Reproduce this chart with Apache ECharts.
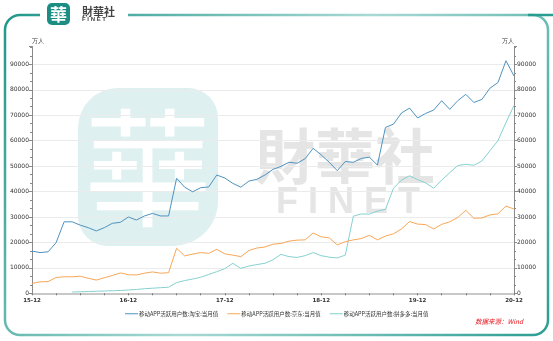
<!DOCTYPE html>
<html>
<head>
<meta charset="utf-8">
<script src="https://cdn.jsdelivr.net/npm/echarts@6/dist/echarts.min.js"></script>
<style>
html,body{margin:0;padding:0;background:#fff;}
#chart{width:553px;height:341px;}
</style>
</head>
<body>
<div id="chart"></div>
<script>
var categories = [
'15-12','16-01','16-02','16-03','16-04','16-05','16-06','16-07','16-08','16-09','16-10','16-11',
'16-12','17-01','17-02','17-03','17-04','17-05','17-06','17-07','17-08','17-09','17-10','17-11',
'17-12','18-01','18-02','18-03','18-04','18-05','18-06','18-07','18-08','18-09','18-10','18-11',
'18-12','19-01','19-02','19-03','19-04','19-05','19-06','19-07','19-08','19-09','19-10','19-11',
'19-12','20-01','20-02','20-03','20-04','20-05','20-06','20-07','20-08','20-09','20-10','20-11',
'20-12'];
var seriesNames = ['移动APP活跃用户数:淘宝:当月值','移动APP活跃用户数:京东:当月值','移动APP活跃用户数:拼多多:当月值'];
var taobao = [16600,16000,16300,19900,28100,28100,26800,25800,24500,25800,27500,27900,
30000,28800,30400,31400,30400,30400,45200,41700,39900,41500,41800,46500,
45300,43200,41700,44100,44800,46500,48700,49900,51500,51100,52900,57000,
54400,51500,48200,51800,51500,53000,53500,50400,65200,66500,70900,72800,
68900,70700,72000,75700,72300,75700,78200,75000,76200,80600,82800,91400,
85400];
var jingdong = [3900,4500,4600,6200,6500,6500,6700,5900,5200,6100,7000,8000,
7300,7200,7900,8400,7900,8100,17700,14700,15400,16000,15700,17300,
15500,15000,14400,16800,17800,18200,19300,19600,20500,20900,21000,23700,
22200,21800,19000,20300,21000,21500,22800,21000,22500,23400,25300,28200,
27200,27000,25300,27100,28100,29800,32600,29500,29600,30800,31200,34300,
33100];
var pinduoduo = [null,null,null,null,null,500,600,700,800,900,1000,1100,
1300,1500,1800,2000,2200,2400,4200,5000,5600,6300,7400,8500,
9700,11800,9800,10700,11300,11800,13200,15300,14400,14100,14800,16000,
14800,14200,13900,15000,30300,31200,31100,32300,33000,41300,44500,46200,
44700,43400,41300,44500,47400,50200,50700,50300,52000,56000,60000,67100,
73800];
var yMin = 0, yMax = 97000, yInterval = 10000;

var chart = echarts.init(document.getElementById('chart'), null, {renderer:'canvas'});

function yAxisCfg(pos){
  return {
    type:'value', position:pos, min:yMin, max:yMax, interval:yInterval,
    name:'万人', nameLocation:'end', nameGap:2,
    nameTextStyle:{fontSize:5.5, color:'#333', align: pos==='left'?'left':'right'},
    axisLine:{show:true, lineStyle:{color:'#8a8a8a', width:1}},
    axisTick:{show:true, length:3, lineStyle:{color:'#8a8a8a'}},
    minorTick:{show:true, splitNumber:3, length:2, lineStyle:{color:'#8a8a8a'}},
    axisLabel:{fontSize:6, color:'#333', margin:3, fontFamily:'DejaVu Sans',
      formatter:function(v){return v%10000===0? String(v):'';}},
    splitLine:{show: pos==='left', showMaxLine:false, lineStyle:{color:'#ebebeb', width:1}}
  };
}

var option = {
  backgroundColor:'#fff',
  animation:false,
  grid:{left:32, right:39, top:46.5, bottom:47.7, containLabel:false},
  xAxis:{
    type:'category', data:categories, boundaryGap:false,
    axisLine:{lineStyle:{color:'#c8c8c8', width:2}},
    axisTick:{show:true, interval:2, length:2, lineStyle:{color:'#777'}},
    axisLabel:{interval:11, fontSize:5.5, fontWeight:'bold', color:'#333', margin:4, fontFamily:'DejaVu Sans'},
    splitLine:{show:false}
  },
  yAxis:[yAxisCfg('left'), yAxisCfg('right')],
  legend:{
    top:306, left:120, icon:'rect', itemWidth:13, itemHeight:1, itemGap:9,
    textStyle:{fontSize:5.5, color:'#333', fontFamily:'Noto Sans CJK SC', padding:[0,0,0,-4]},
    data:seriesNames
  },
  series:[
    {name:seriesNames[0], type:'line', data:taobao, symbol:'none', lineStyle:{width:1, color:'#4f93c0'}, itemStyle:{color:'#4f93c0'}, z:5},
    {name:seriesNames[1], type:'line', data:jingdong, symbol:'none', lineStyle:{width:1, color:'#f8a757'}, itemStyle:{color:'#f8a757'}, z:4},
    {name:seriesNames[2], type:'line', data:pinduoduo, symbol:'none', lineStyle:{width:1, color:'#86d0d0'}, itemStyle:{color:'#86d0d0'}, z:3}
  ],
  graphic:[
    // frame
    {type:'rect', z:-20, silent:true, shape:{x:5, y:15, width:543, height:320, r:15},
      style:{fill:'none', lineWidth:2.5, stroke:new echarts.graphic.LinearGradient(0,0,1,1,[{offset:0,color:'#1f968a'},{offset:0.5,color:'#a9d9d4'},{offset:1,color:'#2a9d92'}])}},
    {type:'line', z:-20, silent:true, shape:{x1:528, y1:15, x2:553, y2:15}, style:{lineWidth:2.5, stroke:'#2a9d92'}},
    {type:'rect', z:-19, silent:true, shape:{x:40, y:10, width:88, height:10}, style:{fill:'#ffffff'}},
    // watermark blob
    {type:'rect', z:-10, silent:true, shape:{x:78, y:88, width:140, height:158, r:[40,30,45,30]}, style:{fill:'#dff0f0'}},
    {type:'text', z:-9, silent:true, style:{x:148, y:168, text:'華', font:'normal 128px "Noto Sans CJK TC"', fill:'#ffffff', align:'center', verticalAlign:'middle'}},
    {type:'text', z:-9, silent:true, style:{x:345, y:156, text:'財華社', font:'bold 60px "Noto Sans CJK TC"', fill:'#e5e5e5', align:'center', verticalAlign:'middle'}},
    {type:'text', z:-9, silent:true, style:{x:348, y:203, text:'F I N E T', font:'bold 36px "Liberation Sans"', fill:'#e5e5e5', align:'center', verticalAlign:'middle'}},
    // logo
    {type:'rect', silent:true, shape:{x:47, y:3, width:23, height:22, r:5}, style:{fill:'#1b8d82'}},
    {type:'text', silent:true, style:{x:58.5, y:14.5, text:'華', font:'bold 17px "Noto Sans CJK TC"', fill:'#ffffff', align:'center', verticalAlign:'middle'}},
    {type:'text', silent:true, style:{x:82, y:11.5, text:'財華社', font:'bold 11px "Noto Sans CJK TC"', fill:'#444', align:'left', verticalAlign:'middle'}},
    {type:'text', silent:true, style:{x:82, y:19.5, text:'F I N E T', font:'bold 6px "Liberation Sans"', fill:'#444', align:'left', verticalAlign:'middle'}},
    // source
    {type:'text', silent:true, style:{x:475, y:322, text:'数据来源：Wind', font:'italic 6.5px "Noto Sans CJK SC"', fill:'#e8121c', align:'left', verticalAlign:'middle'}}
  ]
};
chart.setOption(option);
</script>
</body>
</html>
